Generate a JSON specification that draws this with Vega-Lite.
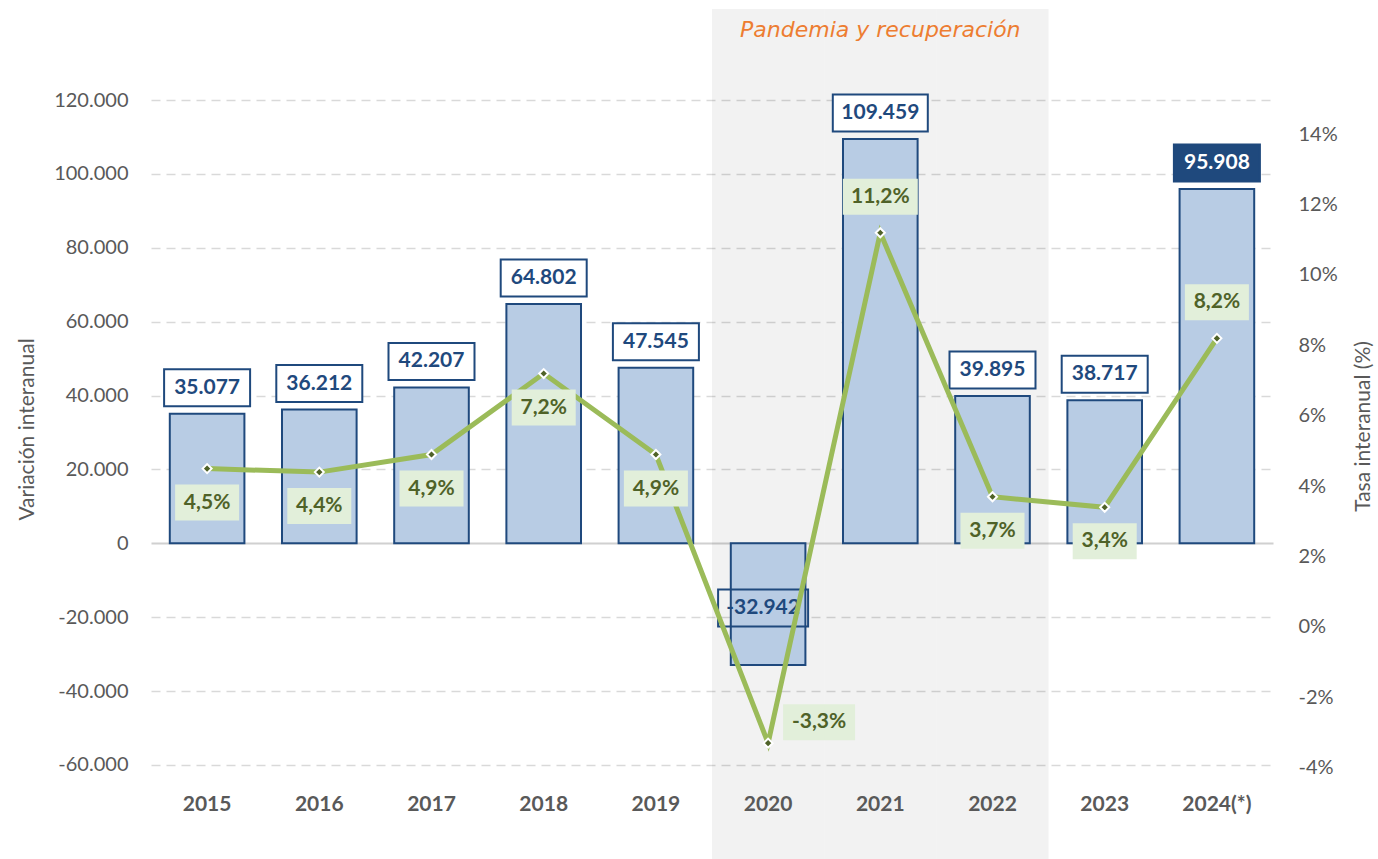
{
  "$schema": "https://vega.github.io/schema/vega-lite/v6.json",
  "width": 1122,
  "height": 771,
  "autosize": {"type": "none"},
  "padding": {"left": 151, "top": 9, "right": 105, "bottom": 79},
  "background": "white",
  "data": {"values": [
    {"year": "2015", "value": 35077, "rate": 4.5, "vlabel": "35.077", "plabel": "4,5%"},
    {"year": "2016", "value": 36212, "rate": 4.4, "vlabel": "36.212", "plabel": "4,4%"},
    {"year": "2017", "value": 42207, "rate": 4.9, "vlabel": "42.207", "plabel": "4,9%"},
    {"year": "2018", "value": 64802, "rate": 7.2, "vlabel": "64.802", "plabel": "7,2%"},
    {"year": "2019", "value": 47545, "rate": 4.9, "vlabel": "47.545", "plabel": "4,9%"},
    {"year": "2020", "value": -32942, "rate": -3.3, "vlabel": "-32.942", "plabel": "-3,3%"},
    {"year": "2021", "value": 109459, "rate": 11.2, "vlabel": "109.459", "plabel": "11,2%"},
    {"year": "2022", "value": 39895, "rate": 3.7, "vlabel": "39.895", "plabel": "3,7%"},
    {"year": "2023", "value": 38717, "rate": 3.4, "vlabel": "38.717", "plabel": "3,4%"},
    {"year": "2024(*)", "value": 95908, "rate": 8.2, "vlabel": "95.908", "plabel": "8,2%"}
  ]},
  "layer": [
    {
      "layer": [
        {
          "data": {"values": [{"year": "2020"}, {"year": "2021"}, {"year": "2022"}]},
          "mark": {"type": "rect", "fill": "#000000", "fillOpacity": 0.051},
          "encoding": {
            "x": {"field": "year", "type": "nominal", "title": null},
            "y": {"datum": 144640, "type": "quantitative"},
            "y2": {"datum": -90000}
          }
        },
        {
          "data": {"values": [{"year": "2021", "label": "Pandemia y recuperación"}]},
          "mark": {"type": "text", "font": "DejaVu Sans", "fontSize": 22, "fontStyle": "italic", "fill": "#ed7d31", "align": "center", "baseline": "middle"},
          "encoding": {
            "x": {"field": "year", "type": "nominal", "title": null},
            "y": {"datum": 138960, "type": "quantitative"},
            "text": {"field": "label"}
          }
        },
        {
          "mark": {"type": "bar", "fill": "#b8cce4", "stroke": "#1f497d", "strokeWidth": 2, "width": {"band": 0.665}},
          "encoding": {
            "x": {
              "field": "year", "type": "nominal", "title": null,
              "scale": {"domain": ["2015", "2016", "2017", "2018", "2019", "2020", "2021", "2022", "2023", "2024(*)"], "paddingInner": 0, "paddingOuter": 0},
              "axis": {"labelAngle": 0, "labelAlign": "center", "labelBaseline": "top", "labelPadding": 13}
            },
            "y": {
              "field": "value", "type": "quantitative",
              "scale": {"domain": [-64077, 144640], "nice": false, "zero": false},
              "axis": {
                "values": [-60000, -40000, -20000, 0, 20000, 40000, 60000, 80000, 100000, 120000],
                "labelExpr": "datum.value == 0 ? '0' : (datum.value < 0 ? '-' : '') + (abs(datum.value) / 1000) + '.000'",
                "grid": true,
                "gridColor": {"condition": {"test": "datum.value === 0", "value": "#d0d0d0"}, "value": "#d9d9d9"},
                "gridDash": {"condition": {"test": "datum.value === 0", "value": []}, "value": [9, 6]},
                "gridWidth": {"condition": {"test": "datum.value === 0", "value": 2}, "value": 1.5},
                "labelPadding": 23,
                "title": "Variación interanual",
                "titleAngle": -90,
                "titleX": -118,
                "titleY": 420,
                "titleAlign": "center",
                "titleBaseline": "alphabetic"
              }
            }
          }
        },
        {
          "transform": [{"filter": "datum.value > 0"}],
          "mark": {"type": "point", "filled": true, "opacity": 1, "stroke": "#1f497d", "strokeWidth": 2, "yOffset": -26},
          "encoding": {
            "x": {"field": "year", "type": "nominal", "title": null},
            "y": {"field": "value", "type": "quantitative"},
            "shape": {"condition": {"test": "length(datum.vlabel) > 6", "value": "M-1,-0.39H1V0.39H-1Z"}, "value": "M-1,-0.43H1V0.43H-1Z"},
            "size": {"condition": {"test": "length(datum.vlabel) > 6", "value": 9025}, "value": 7396},
            "fill": {"condition": {"test": "datum.year == '2024(*)'", "value": "#1f497d"}, "value": "#ffffff"}
          }
        },
        {
          "transform": [{"filter": "datum.value > 0"}],
          "mark": {"type": "text", "font": "Lato", "fontSize": 21, "fontWeight": "bold", "align": "center", "baseline": "middle", "yOffset": -26},
          "encoding": {
            "x": {"field": "year", "type": "nominal", "title": null},
            "y": {"field": "value", "type": "quantitative"},
            "text": {"field": "vlabel"},
            "fill": {"condition": {"test": "datum.year == '2024(*)'", "value": "#ffffff"}, "value": "#1f497d"}
          }
        },
        {
          "transform": [{"filter": "datum.value < 0"}],
          "mark": {"type": "point", "filled": false, "fill": "transparent", "opacity": 1, "stroke": "#1f497d", "strokeWidth": 2, "yOffset": -57, "xOffset": -5, "shape": "M-1,-0.41H1V0.41H-1Z", "size": 8100},
          "encoding": {
            "x": {"field": "year", "type": "nominal", "title": null},
            "y": {"field": "value", "type": "quantitative"}
          }
        },
        {
          "transform": [{"filter": "datum.value < 0"}],
          "mark": {"type": "text", "font": "Lato", "fontSize": 21, "fontWeight": "bold", "align": "center", "baseline": "middle", "fill": "#1f497d", "yOffset": -57, "xOffset": -5},
          "encoding": {
            "x": {"field": "year", "type": "nominal", "title": null},
            "y": {"field": "value", "type": "quantitative"},
            "text": {"field": "vlabel"}
          }
        }
      ]
    },
    {
      "layer": [
        {
          "mark": {"type": "line", "stroke": "#9bbb59", "strokeWidth": 5},
          "encoding": {
            "x": {"field": "year", "type": "nominal", "title": null},
            "y": {
              "field": "rate", "type": "quantitative",
              "scale": {"domain": [-4.347, 17.557], "nice": false, "zero": false},
              "axis": {
                "orient": "right",
                "values": [-4, -2, 0, 2, 4, 6, 8, 10, 12, 14],
                "labelExpr": "datum.value + '%'",
                "grid": false,
                "labelPadding": 25,
                "title": "Tasa interanual (%)",
                "titleAngle": -90,
                "titleX": 96,
                "titleY": 417,
                "titleAlign": "center",
                "titleBaseline": "alphabetic"
              }
            }
          }
        },
        {
          "transform": [{"filter": "datum.year != '2020' && datum.year != '2021' && datum.year != '2024(*)'"}],
          "mark": {"type": "point", "filled": true, "opacity": 1, "fill": "#e2efda", "strokeWidth": 0, "yOffset": 34},
          "encoding": {
            "x": {"field": "year", "type": "nominal", "title": null},
            "y": {"field": "rate", "type": "quantitative"},
            "shape": {"condition": {"test": "length(datum.plabel) > 4", "value": "M-1,-0.48H1V0.48H-1Z"}, "value": "M-1,-0.5625H1V0.5625H-1Z"},
            "size": {"condition": {"test": "length(datum.plabel) > 4", "value": 5625}, "value": 4096}
          }
        },
        {
          "transform": [{"filter": "datum.year != '2020' && datum.year != '2021' && datum.year != '2024(*)'"}],
          "mark": {"type": "text", "font": "Lato", "fontSize": 21, "fontWeight": "bold", "align": "center", "baseline": "middle", "fill": "#4f6228", "yOffset": 34},
          "encoding": {
            "x": {"field": "year", "type": "nominal", "title": null},
            "y": {"field": "rate", "type": "quantitative"},
            "text": {"field": "plabel"}
          }
        },
        {
          "transform": [{"filter": "datum.year == '2021' || datum.year == '2024(*)'"}],
          "mark": {"type": "point", "filled": true, "opacity": 1, "fill": "#e2efda", "strokeWidth": 0, "yOffset": -36},
          "encoding": {
            "x": {"field": "year", "type": "nominal", "title": null},
            "y": {"field": "rate", "type": "quantitative"},
            "shape": {"condition": {"test": "length(datum.plabel) > 4", "value": "M-1,-0.48H1V0.48H-1Z"}, "value": "M-1,-0.5625H1V0.5625H-1Z"},
            "size": {"condition": {"test": "length(datum.plabel) > 4", "value": 5625}, "value": 4096}
          }
        },
        {
          "transform": [{"filter": "datum.year == '2021' || datum.year == '2024(*)'"}],
          "mark": {"type": "text", "font": "Lato", "fontSize": 21, "fontWeight": "bold", "align": "center", "baseline": "middle", "fill": "#4f6228", "yOffset": -36},
          "encoding": {
            "x": {"field": "year", "type": "nominal", "title": null},
            "y": {"field": "rate", "type": "quantitative"},
            "text": {"field": "plabel"}
          }
        },
        {
          "transform": [{"filter": "datum.year == '2020'"}],
          "mark": {"type": "point", "filled": true, "opacity": 1, "fill": "#e2efda", "strokeWidth": 0, "yOffset": -21, "xOffset": 51, "shape": "M-1,-0.5H1V0.5H-1Z", "size": 5184},
          "encoding": {
            "x": {"field": "year", "type": "nominal", "title": null},
            "y": {"field": "rate", "type": "quantitative"}
          }
        },
        {
          "transform": [{"filter": "datum.year == '2020'"}],
          "mark": {"type": "text", "font": "Lato", "fontSize": 21, "fontWeight": "bold", "align": "center", "baseline": "middle", "fill": "#4f6228", "yOffset": -21, "xOffset": 51},
          "encoding": {
            "x": {"field": "year", "type": "nominal", "title": null},
            "y": {"field": "rate", "type": "quantitative"},
            "text": {"field": "plabel"}
          }
        },
        {
          "mark": {"type": "point", "shape": "diamond", "filled": true, "opacity": 1, "fill": "#4f6228", "stroke": "#ffffff", "strokeWidth": 2, "size": 81},
          "encoding": {
            "x": {"field": "year", "type": "nominal", "title": null},
            "y": {"field": "rate", "type": "quantitative"}
          }
        }
      ]
    }
  ],
  "resolve": {"scale": {"y": "independent"}},
  "config": {
    "font": "Lato",
    "view": {"stroke": null},
    "axisX": {
      "domain": false, "ticks": false, "grid": false,
      "labelFont": "Lato", "labelFontSize": 21, "labelFontWeight": "bold", "labelColor": "#595959", "labelPadding": 13, "labelAlign": "center"
    },
    "axisY": {
      "domain": false, "ticks": false,
      "labelFont": "Lato", "labelFontSize": 20, "labelColor": "#595959",
      "titleFont": "Lato", "titleFontSize": 21, "titleFontWeight": "normal", "titleColor": "#595959"
    }
  }
}
